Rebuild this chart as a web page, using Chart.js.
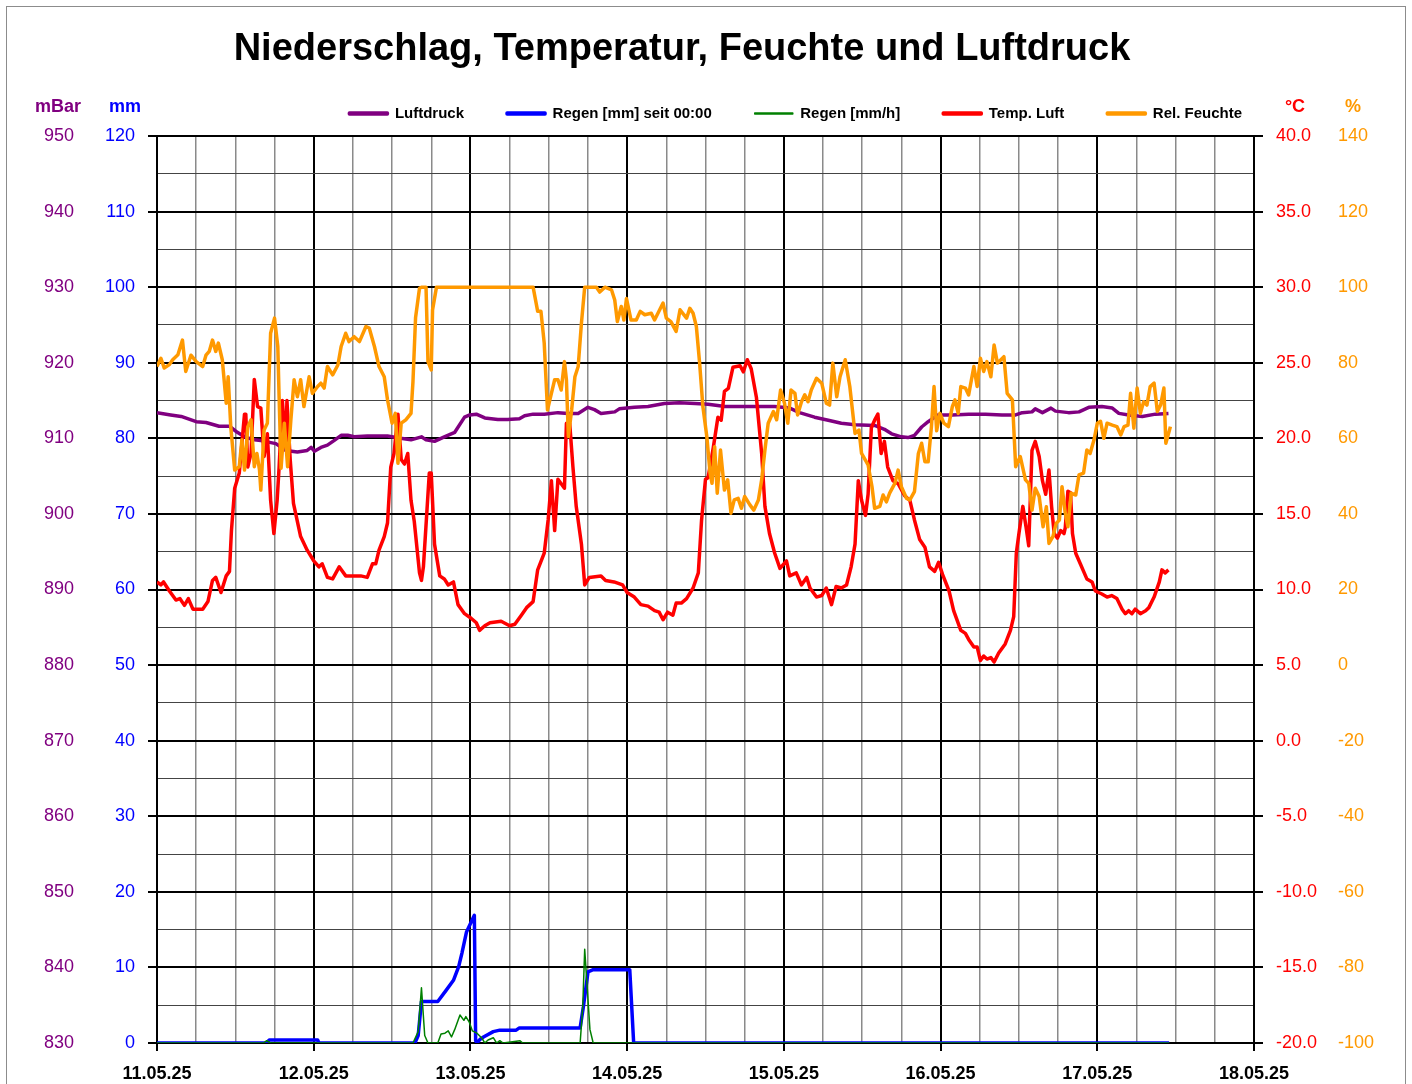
<!DOCTYPE html>
<html>
<head>
<meta charset="utf-8">
<style>
  html, body { margin: 0; padding: 0; background: #fff; }
  canvas { display: block; }
</style>
</head>
<body>
<canvas id="c" width="1412" height="1084"></canvas>
<script src="https://cdn.jsdelivr.net/npm/chart.js"></script>
<script>
const chartTitle = 'Niederschlag, Temperatur, Feuchte und Luftdruck';
const dayLabels = ['11.05.25', '12.05.25', '13.05.25', '14.05.25', '15.05.25', '16.05.25', '17.05.25', '18.05.25'];
const seriesNames = ['Luftdruck', 'Regen [mm] seit 00:00', 'Regen [mm/h]', 'Temp. Luft', 'Rel. Feuchte'];
const unitLabels = ['mBar', 'mm', '°C', '%'];

// hours since 11.05.25 00:00
const pressHours = [0,2.1,3.7,6,7.5,9.5,11.1,12.3,13.4,14.9,
  15.9,18.2,19.7,21.5,23,23.6,24.1,25.1,26.1,27.1,
  28.2,29.2,30.2,32.2,35.3,37.3,38.9,40.5,41.2,42.5,
  44,45.6,47.1,47.9,48.9,50.2,52.2,53.7,55.5,56.3,
  57.6,59.3,61.4,63,64.5,66,67,68,70.1,70.8,
  73.1,75.2,77.7,80,82.4,84.4,87,89.5,92.1,94.6,
  96.9,98.4,100.7,102.8,104.8,106.9,109.9,111.4,112.5,114,
  115,116,117.1,118.1,119.6,121.8,124.3,126.9,129.4,131.5,
  132.5,134,134.5,135.6,136.9,137.6,139.6,141.2,142.7,144.7,
  146.3,147.3,148.8,150.9,152.9,154.9];
const pressValues = [913.4,913.1,912.9,912.2,912.1,911.6,911.6,910.8,910.2,909.8,
  909.7,909.3,908.4,908.2,908.4,908.8,908.3,908.8,909.1,909.7,
  910.4,910.4,910.2,910.3,910.3,910.0,909.8,910.2,909.8,909.6,
  910.2,910.8,912.8,913.1,913.2,912.7,912.5,912.5,912.6,913.0,
  913.2,913.2,913.4,913.3,913.3,914.1,913.8,913.3,913.5,913.9,
  914.1,914.2,914.6,914.7,914.6,914.5,914.2,914.2,914.2,914.2,
  914.0,913.4,912.8,912.4,912.0,911.8,911.7,911.2,910.6,910.2,
  910.1,910.4,911.5,912.2,913.1,913.1,913.2,913.2,913.1,913.1,
  913.4,913.5,913.9,913.4,914.0,913.6,913.4,913.5,914.1,914.2,
  914.0,913.3,913.1,912.9,913.2,913.3];

const rainHours = [0,16.8,17.2,24.6,24.8,39.5,40,40.5,43,44.3,
  45.4,46.2,46.7,47.4,48.6,48.8,49,49.5,50,51.5,
  52.5,55,55.5,64.8,65.3,66,66.8,72.4,73,155];
const rainValues = [0,0,0.4,0.4,0,0,1,5.5,5.5,7.0,
  8.3,10.1,11.9,14.7,16.9,0.3,0,0.5,0.8,1.5,
  1.7,1.7,2.0,2.0,4.8,9.4,9.7,9.7,0,0];

const rateHours = [0,16.3,16.8,17.4,39.2,40,40.5,41,41.5,43,
  43.5,44.1,44.6,45.1,45.6,46.4,47,47.3,47.8,48.3,
  49,49.7,50.2,50.7,51.5,52,52.5,53,55.6,56,
  64.8,65.2,65.5,65.9,66.3,66.8,155];
const rateValues = [0,0,0.3,0,0,1.5,7.3,1.0,0,0,
  1.2,1.3,1.6,0.8,1.8,3.7,3.0,3.5,2.8,1.6,
  1.3,0.7,0,0.4,0.7,0,0.3,0,0.3,0,
  0,4.8,12.4,7.1,1.8,0,0];

const tempHours = [0,0.6,1,1.9,2.9,3.5,4.2,4.8,5.5,7,
  7.8,8.5,9,9.8,10.6,11.1,11.4,11.9,12.6,13.4,
  13.6,13.9,14.4,14.9,15.4,15.9,16.4,16.9,17.4,17.9,
  18.4,18.7,19.2,19.7,19.9,20.4,20.9,22,23,24,
  24.8,25.3,26.1,26.9,27.9,28.9,30.2,31.2,32.2,33,
  33.5,34,34.8,35.3,35.8,36.3,36.9,37.4,37.9,38.4,
  38.9,39.4,40.2,40.5,40.8,41.7,42,42.5,43.3,44,
  44.6,45.4,46.1,47.1,48.1,48.9,49.4,50.2,51,52.7,
  54,54.8,55.8,56.6,57.6,58.3,59.3,59.9,60.4,60.9,
  61.4,62.4,62.7,63.2,63.7,64.2,65,65.5,66.2,68,
  68.7,70,71.3,72,73.1,74.1,75.2,76.2,76.9,77.5,
  78.2,79,79.5,80.3,81.1,82.1,82.9,83.4,84,84.4,
  85.2,85.9,86.4,86.9,87.5,88.2,89.3,89.8,90.4,91,
  91.8,92.6,93.1,93.8,94.6,95.4,96.4,96.9,97.9,98.7,
  99.5,100,101,101.8,102.5,103.3,104,104.8,105.6,106.3,
  106.9,107.4,107.9,108.5,108.9,109.4,109.9,110.4,110.9,111.4,
  111.9,112.7,113.5,114.5,115.3,116,116.8,117.6,118.3,119.1,
  119.7,120.3,121.3,122,123.1,123.8,124.3,125.1,125.6,126.1,
  126.6,127.1,127.7,128.2,128.9,129.9,130.7,131.2,131.6,132,
  132.6,133.1,133.5,134,134.5,135.1,135.6,136.1,136.6,137,
  137.4,137.9,138.4,138.9,139.1,139.5,139.9,140.2,140.7,141.4,
  142.4,143.2,143.7,144.7,145.5,146.2,147,147.8,148.3,148.8,
  149.3,149.8,150.6,151.4,151.9,152.7,153.5,153.9,154.4,154.9];
const tempValues = [10.5,10.3,10.5,9.9,9.3,9.4,8.95,9.4,8.7,8.7,
  9.2,10.6,10.8,9.8,10.9,11.2,13.9,16.7,17.7,21.6,
  21.6,18.1,19.0,23.9,22.1,22.0,18.8,20.3,15.9,13.7,
  15.9,18.1,22.5,19.4,22.5,18.6,15.7,13.5,12.6,11.9,
  11.5,11.7,10.8,10.7,11.5,10.9,10.9,10.9,10.8,11.7,
  11.7,12.6,13.5,14.4,18.1,19.0,21.6,18.6,18.3,19.0,
  15.9,14.5,11.1,10.6,11.5,17.7,17.7,13.0,10.9,10.7,
  10.3,10.5,9.0,8.4,8.1,7.8,7.3,7.6,7.8,7.9,
  7.6,7.7,8.3,8.8,9.2,11.3,12.4,14.6,17.2,13.9,
  17.3,16.7,21.0,21.0,18.1,15.5,13.0,10.3,10.8,10.9,
  10.6,10.5,10.3,9.8,9.5,9.0,8.9,8.6,8.5,8.0,
  8.5,8.3,9.1,9.1,9.4,10.1,11.1,14.6,17.3,17.4,
  19.4,21.4,21.2,23.1,23.3,24.7,24.8,24.4,25.2,24.6,
  22.7,19.0,15.5,13.7,12.4,11.4,11.9,10.9,11.1,10.3,
  10.8,10.1,9.5,9.6,10.1,9.0,10.2,10.1,10.3,11.5,
  13.0,17.2,15.9,14.9,16.3,20.7,21.2,21.6,19.0,19.8,
  18.1,17.2,17.0,16.2,15.9,14.6,13.3,12.8,11.5,11.2,
  11.8,11.0,9.9,8.6,7.3,7.1,6.7,6.2,6.2,5.3,
  5.6,5.4,5.5,5.2,5.8,6.4,7.3,8.2,12.4,13.7,
  15.5,14.1,12.9,19.2,19.8,18.8,17.2,16.3,17.9,15.5,
  13.7,13.4,13.9,13.7,14.1,16.5,16.4,13.7,12.4,11.7,
  10.7,10.5,9.9,9.7,9.5,9.6,9.4,8.7,8.4,8.6,
  8.4,8.7,8.4,8.6,8.8,9.5,10.5,11.3,11.1,11.3];

const humHours = [0,0.6,1.1,1.9,2.4,3.2,3.9,4.4,5.2,6,
  7,7.5,8,8.5,9,9.4,10,10.6,10.9,11.3,
  11.9,12.6,13,13.4,13.9,14.4,14.9,15.3,15.7,15.9,
  16.4,16.9,17.4,18,18.5,18.7,19,19.5,20,20.5,
  21,21.5,22,22.5,23.3,23.8,24.6,25.1,25.6,26.1,
  26.9,27.7,28.2,28.9,29.4,30.2,31,32,32.5,33.3,
  34,34.8,35.3,36,36.5,36.9,37.4,38.1,38.9,39.2,
  39.6,40.2,40.5,41.2,41.5,42,42.2,42.8,57.6,58.3,
  58.8,59.3,59.8,60.4,60.9,61.4,61.9,62.4,62.7,63,
  63.5,64,64.5,65,65.5,67.3,67.8,68.6,69.6,70.1,
  70.5,71.1,71.5,71.9,72.6,73.4,74,74.7,75.7,76.2,
  77.5,78,78.7,79.5,80.1,81.1,81.6,82.1,82.6,83.1,
  83.6,84.2,84.7,85,85.4,85.8,86.3,86.9,87.4,87.9,
  88.4,89,89.5,90,90.8,91.4,92.1,92.6,93.1,93.6,
  94.4,94.9,95.5,96.1,96.6,97.1,97.7,98.1,98.7,99.2,
  99.7,100.2,101,101.8,102.5,103,103.5,104.1,104.6,105.4,
  106.1,106.9,107.5,107.9,108.9,109.5,109.9,110.7,111.2,111.7,
  112.2,113,113.5,114,114.8,115.3,116,116.6,117.1,117.6,
  118.1,118.6,119,119.4,119.9,120.5,121.2,121.8,122.2,122.7,
  123.1,123.8,124.3,125.1,125.6,126.1,126.6,127.1,127.7,128.2,
  128.7,129.7,130.2,131,131.5,132.2,133,133.5,134,134.5,
  135.1,135.7,136.2,136.6,137.2,137.7,138.2,138.6,139.1,139.5,
  140,140.7,141.2,141.9,142.4,142.9,143.5,144,144.5,145,
  145.5,146.3,147,147.6,148.1,148.7,149.1,149.6,150.1,150.6,
  151.1,151.6,152.1,152.7,153.2,153.7,154.2,154.5,155.2];
const humValues = [79,81.2,78.6,79.5,80.8,82.1,86,77.7,82,80.3,
  79,82,83,86,83,85.2,80.8,69.3,76.3,63,
  51.6,52.5,59.6,51.6,63,64.9,52.5,56,51.6,46.3,
  62.2,64,87.8,91.8,84.3,71,52.1,64,52.5,64.9,
  75.5,71,75.5,68.4,76.3,71.9,73.7,74.6,73.3,79,
  76.8,79.4,84.3,87.8,85.6,86.9,85.6,89.6,89.2,84.3,
  79,76.3,70.2,64,66.6,53.4,64,64.9,66.6,75,
  92,99.7,100,100,80.3,78.1,94,100,100,93.6,
  93.6,85.2,67.5,71.9,75.5,75.5,72.8,80.3,75.5,60.5,
  67.5,76.3,79,90.5,100,100,98.7,100,99.3,96.6,
  90.9,94.9,91.3,97,91.3,91.3,93.6,92.7,93.1,91.3,
  95.8,91.8,90.9,88.3,94,91.8,94.4,93.1,89.6,79.9,
  68.4,60.5,50.8,48.1,57.8,45.5,56.9,46.3,49,40.2,
  43.7,44.1,41.5,44.6,42.4,41,43.7,49,56.9,64,
  67.1,64.9,72.8,69.3,64,72.8,71.9,66.2,69.7,71.5,
  69.7,72.8,75.9,74.6,69.3,68.8,79.9,71,76.3,80.8,
  73.7,61.3,62.2,56,53,47.2,41.5,42,45,43.2,
  45.5,48.1,51.6,47.2,44.1,43.7,45.9,56,58.7,53.8,
  53.8,63.1,73.7,62,66.6,64,63.1,68.4,70.2,66.6,
  73.7,73.3,71.5,79,73.7,81.2,77.7,80.3,76.3,84.7,
  79.9,81.6,71.9,70.2,52.5,55.2,49,48.1,41,46.8,
  44.6,36.6,41.9,32.2,34,37.5,38.4,47.2,40.2,36.6,
  45.5,45,50.3,50.8,56.9,56,59.6,64,64.5,60,
  64,63.5,63.1,60.9,63.1,63.5,71.9,62.7,73.3,66.6,
  69.7,68.8,73.7,74.6,67.1,68.8,73.3,58.7,63.1];

const FONT = '"Liberation Sans", Arial, sans-serif';
Chart.defaults.font.family = FONT;
Chart.defaults.color = '#000';

function pts(hours, values) {
  return hours.map((h, i) => ({ x: h, y: values[i] }));
}

// background, outer frame, title and unit captions
const decor = {
  id: 'decor',
  beforeDraw(chart) {
    const c = chart.ctx;
    // legend row sits left of the right-hand axes
    chart.legend.right = chart.width - 127;
    c.save();
    c.fillStyle = '#fff';
    c.fillRect(0, 0, chart.width, chart.height);
    c.strokeStyle = '#8c8c8c';
    c.lineWidth = 1;
    c.strokeRect(6.5, 6.5, chart.width - 13, chart.height + 20);
    c.restore();
  },
  afterDraw(chart) {
    const c = chart.ctx, a = chart.chartArea;
    c.save();
    c.textAlign = 'center';
    c.textBaseline = 'middle';
    c.fillStyle = '#000';
    c.font = 'bold 38px ' + FONT;
    c.fillText(chartTitle, 682, 50);
    c.font = 'bold 18px ' + FONT;
    const y = a.top - 29;
    c.fillStyle = '#800080'; c.fillText(unitLabels[0], a.left - 99, y);
    c.fillStyle = '#0000ff'; c.fillText(unitLabels[1], a.left - 32, y);
    c.fillStyle = '#ff0000'; c.fillText(unitLabels[2], a.right + 41, y);
    c.fillStyle = '#ff9900'; c.fillText(unitLabels[3], a.right + 99, y);
    c.restore();
  }
};

// a bit more room under the legend
const legendGap = {
  id: 'legendGap',
  beforeInit(chart) {
    const fit = chart.legend.fit;
    chart.legend.fit = function () {
      fit.call(this);
      this.height += 5;
    };
  }
};

const isDay = c => c.tick && c.tick.value % 24 === 0;
const isMajor = c => c.tick && c.tick.value % 10 === 0;

new Chart(document.getElementById('c'), {
  type: 'line',
  data: {
    datasets: [
      { label: seriesNames[0], data: pts(pressHours, pressValues), yAxisID: 'yP',
        borderColor: '#800080', backgroundColor: '#800080', borderWidth: 3.5, order: 4 },
      { label: seriesNames[1], data: pts(rainHours, rainValues), yAxisID: 'yR',
        borderColor: '#0000ff', backgroundColor: '#0000ff', borderWidth: 3.5, order: 3 },
      { label: seriesNames[2], data: pts(rateHours, rateValues), yAxisID: 'yR',
        borderColor: '#008000', backgroundColor: '#008000', borderWidth: 1.5, order: 2 },
      { label: seriesNames[3], data: pts(tempHours, tempValues), yAxisID: 'yT',
        borderColor: '#ff0000', backgroundColor: '#ff0000', borderWidth: 3.5, order: 1 },
      { label: seriesNames[4], data: pts(humHours, humValues), yAxisID: 'yH',
        borderColor: '#ff9900', backgroundColor: '#ff9900', borderWidth: 3.5, order: 0 }
    ]
  },
  options: {
    responsive: false,
    animation: false,
    layout: { padding: { left: 0, right: 32, top: 63, bottom: 0 } },
    elements: {
      point: { radius: 0 },
      line: { tension: 0, borderJoinStyle: 'round' }
    },
    plugins: {
      tooltip: { enabled: false },
      legend: {
        position: 'top',
        align: 'end',
        labels: {
          boxWidth: 38,
          boxHeight: 1,
          padding: 43,
          color: '#000',
          font: { size: 15, weight: 'bold' },
          sort: (a, b) => a.datasetIndex - b.datasetIndex
        }
      }
    },
    scales: {
      x: {
        type: 'linear',
        min: 0,
        max: 168,
        afterFit(s) { s.paddingLeft = 0; s.paddingRight = 0; s.height = 41; },
        ticks: {
          stepSize: 6,
          autoSkip: false,
          maxRotation: 0,
          padding: 12,
          color: '#000',
          font: { size: 18, weight: 'bold' },
          callback: v => (v % 24 === 0 ? dayLabels[v / 24] : '')
        },
        grid: {
          color: c => (isDay(c) ? '#000' : '#8a8a8a'),
          lineWidth: c => (isDay(c) ? 2 : 1.5),
          tickLength: 8,
          tickWidth: 2,
          tickColor: c => (isDay(c) ? '#000' : 'rgba(0,0,0,0)')
        },
        border: { color: '#000', width: 2 }
      },
      yP: {
        position: 'left',
        weight: 2,
        min: 830,
        max: 950,
        afterFit(s) { s.width = 77; },
        ticks: { stepSize: 10, autoSkip: false, padding: 3, color: '#800080', font: { size: 18 } },
        grid: { display: false, drawTicks: false },
        border: { display: false }
      },
      yR: {
        position: 'left',
        weight: 1,
        min: 0,
        max: 120,
        afterFit(s) { s.width = 80; },
        ticks: {
          stepSize: 5,
          autoSkip: false,
          padding: 13,
          color: '#0000ff',
          font: { size: 18 },
          callback: v => (v % 10 === 0 ? v : '')
        },
        grid: {
          color: c => (isMajor(c) ? '#000' : '#444'),
          lineWidth: c => (isMajor(c) ? 2 : 1),
          tickLength: 9,
          tickWidth: 2,
          tickColor: c => (isMajor(c) ? '#000' : 'rgba(0,0,0,0)')
        },
        border: { color: '#000', width: 2 }
      },
      yT: {
        position: 'right',
        weight: 1,
        min: -20,
        max: 40,
        afterFit(s) { s.width = 84; },
        ticks: {
          stepSize: 5,
          autoSkip: false,
          padding: 13,
          color: '#ff0000',
          font: { size: 18 },
          callback: v => v.toFixed(1)
        },
        grid: { drawOnChartArea: false, tickLength: 9, color: '#000', lineWidth: 2 },
        border: { color: '#000', width: 2 }
      },
      yH: {
        position: 'right',
        weight: 2,
        min: -100,
        max: 140,
        afterFit(s) { s.width = 42; },
        ticks: { stepSize: 20, autoSkip: false, padding: 0, color: '#ff9900', font: { size: 18 } },
        grid: { display: false, drawTicks: false },
        border: { display: false }
      }
    }
  },
  plugins: [decor, legendGap]
});
</script>
</body>
</html>
